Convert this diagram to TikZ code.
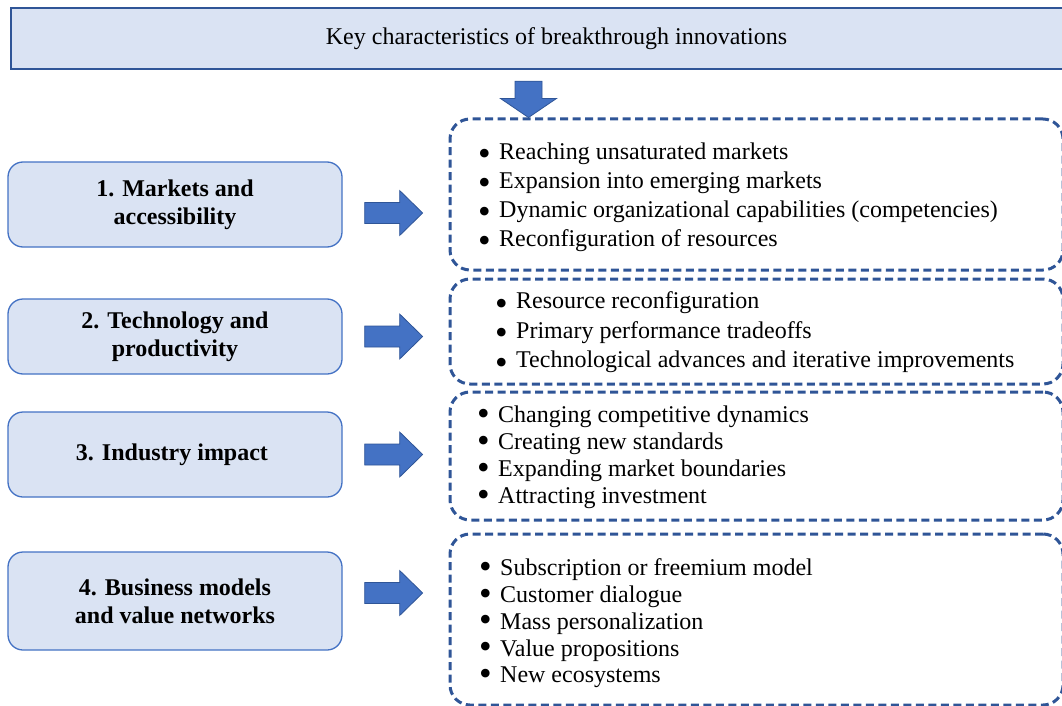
\documentclass[tikz,border=0pt]{standalone}
\usepackage{fontspec}
\setmainfont{Liberation Serif}
\usepackage{tikz}
\usetikzlibrary{calc}
\definecolor{boxfill}{HTML}{DAE3F3}
\definecolor{darkblue}{HTML}{2F5597}
\definecolor{arrowblue}{HTML}{4472C4}
\tikzstyle{titlebox}=[rectangle,draw=darkblue,fill=boxfill,line width=2.4pt,
                      minimum width=1091pt,minimum height=61pt,
                      font=\fontsize{24}{29}\selectfont]
\tikzstyle{topicbox}=[rectangle,rounded corners=15pt,draw=arrowblue,fill=boxfill,
                      line width=1.3pt,minimum width=334pt,align=center,
                      font=\bfseries\fontsize{24}{28}\selectfont]
\tikzstyle{listbox}=[rectangle,rounded corners=20pt,draw=darkblue,line width=3pt,
                     dash pattern=on 8pt off 4.5pt,minimum width=613pt]
\tikzstyle{itemlist}=[anchor=west,align=left,inner sep=0pt]
\tikzstyle{blockarrow}=[fill=arrowblue,draw=darkblue,line width=0.8pt]
\newcommand\bul{\makebox[21pt][l]{\raisebox{-6.5pt}{\scalebox{1.5}{\textbullet}}}}
\newcommand\bulr{\makebox[21pt][l]{\raisebox{-2.5pt}{\scalebox{1.5}{\textbullet}}}}
\newcommand\topicx{175}
\newcommand\listx{756.5}
\newcommand\bigarrow[2]{
    \fill[blockarrow] ($(#1.east)+(22,#2+10.5)$) -- ++(35,0) -- ++(0,12)
        -- ++(23,-22.5) -- ++(-23,-22.5) -- ++(0,12) -- ++(-35,0) -- cycle;
}

\begin{document}
\begin{tikzpicture}[x=1pt,y=1pt]
    \useasboundingbox (0,0) rectangle (1062,-706);
    	\node [titlebox] (title) at ($(556.5,-38.5)$) {Key characteristics of breakthrough innovations};
    	% topics
    	\node [topicbox,minimum height=85pt] (markets) at ($(\topicx,-204.5)$) {
    		1. Markets and\\ accessibility
    	};
    	\node [topicbox,minimum height=75pt] (technology) at ($(\topicx,-336.5)$) {
    		2. Technology and\\ productivity
    	};
    	\node [topicbox,minimum height=85pt] (industry) at ($(\topicx,-454.5)$) {
    		3. Industry impact
    	};
    	\node [topicbox,minimum height=98pt] (business) at ($(\topicx,-601)$) {
    		4. Business models\\ and value networks
    	};
    	% lists
    	\node [listbox,minimum height=151pt] (markets list) at ($(\listx,-194.5)$) {};
    	\node [listbox,minimum height=105pt] (technology list) at ($(\listx,-331.5)$) {};
    	\node [listbox,minimum height=128pt] (industry list) at ($(\listx,-456)$) {};
    	\node [listbox,minimum height=171pt] (business list) at ($(\listx,-619.5)$) {};
    	\node [itemlist,font=\fontsize{24}{29}\selectfont] (markets items) at ($(478,-197.5)$) {
    		\bul Reaching unsaturated markets\\
    		\bul Expansion into emerging markets\\
    		\bul Dynamic organizational capabilities (competencies)\\
    		\bul Reconfiguration of resources
    	};
    	\node [itemlist,font=\fontsize{24}{29.5}\selectfont] (technology items) at ($(495,-333)$) {
    		\bul Resource reconfiguration\\
    		\bul Primary performance tradeoffs\\
    		\bul Technological advances and iterative improvements
    	};
    	\node [itemlist,font=\fontsize{24}{27}\selectfont] (industry items) at ($(477,-457.5)$) {
    		\bulr Changing competitive dynamics\\
    		\bulr Creating new standards\\
    		\bulr Expanding market boundaries\\
    		\bulr Attracting investment
    	};
    	\node [itemlist,font=\fontsize{24}{26.75}\selectfont] (business items) at ($(479,-623.5)$) {
    		\bulr Subscription or freemium model\\
    		\bulr Customer dialogue\\
    		\bulr Mass personalization\\
    		\bulr Value propositions\\
    		\bulr New ecosystems
    	};
    	% arrows
    	\coordinate (drop) at ($(markets list.north west)+(80,0)$);
    	\fill [blockarrow] (drop) -- ++(28,19) -- ++(-14.5,0) -- ($(title.south -| drop)+(13.5,-11)$)
    		-- ++(-27,0) -- ($(drop)+(-13.5,19)$) -- ++(-14.5,0) -- cycle;
    	\bigarrow{markets}{-8.5}
    	\bigarrow{technology}{0}
    	\bigarrow{industry}{0}
    	\bigarrow{business}{8}
    \end{tikzpicture}
\end{document}
